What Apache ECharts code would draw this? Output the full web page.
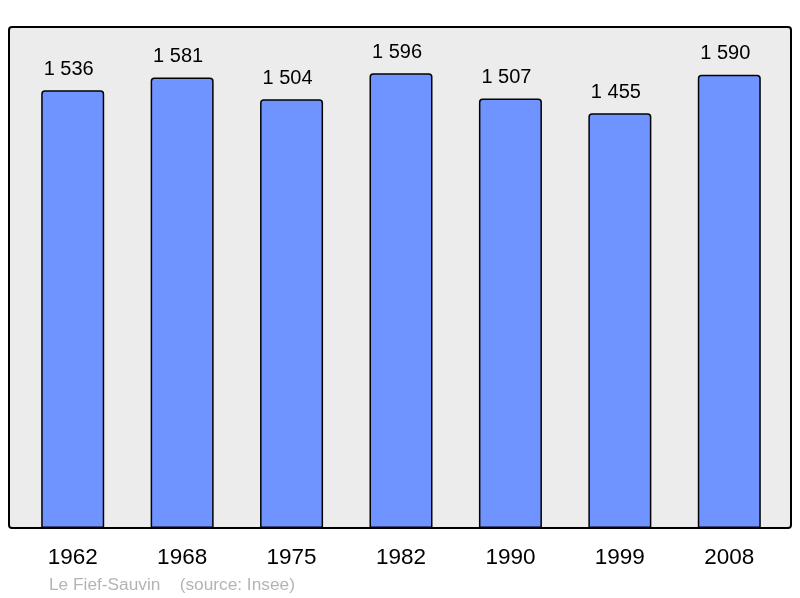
<!DOCTYPE html>
<html><head><meta charset="utf-8">
<script src="https://cdn.jsdelivr.net/npm/echarts@6/dist/echarts.min.js"></script>
<style>html,body{margin:0;padding:0;background:#fff}#c{width:800px;height:598px}</style>
</head><body><div id="c"></div>
<script>
const years = ['1962','1968','1975','1982','1990','1999','2008'];
const population = [1536, 1581, 1504, 1596, 1507, 1455, 1590];
const footer = 'Le Fief-Sauvin    (source: Insee)';

const chart = echarts.init(document.getElementById('c'), null, {renderer:'canvas'});
const fmt = v => String(v).replace(/\B(?=(\d{3})+(?!\d))/g, ' ');
chart.setOption({
  animation: false,
  backgroundColor: '#ffffff',
  graphic: [
    {type:'rect', z:-10, shape:{x:9, y:27, width:782, height:501, r:3},
     style:{fill:'#ececec', stroke:'#000', lineWidth:2}},
    {type:'text', left:49, top:577, style:{text:footer, fill:'#b4b4b4', font:'17.3px "Liberation Sans", Arial, sans-serif'}}
  ],
  grid: {left:18, right:16, top:72, bottom:70, containLabel:false},
  xAxis: {type:'category', data:years,
    axisLine:{show:false}, axisTick:{show:false},
    axisLabel:{fontSize:22.5, color:'#000', margin:18, fontFamily:'Liberation Sans'}},
  yAxis: {type:'value', min:0, max:1600, show:false, splitLine:{show:false}},
  series: [{type:'bar', data:population, barWidth:63,
    itemStyle:{color:'#7094ff', borderColor:'#000', borderWidth:1.5, borderRadius:[3,3,0,0]},
    label:{show:true, position:'top', distance:11, offset:[-4,0], fontSize:20, color:'#000', fontFamily:'Liberation Sans',
      formatter: p => fmt(p.value)}}]
});
</script></body></html>
